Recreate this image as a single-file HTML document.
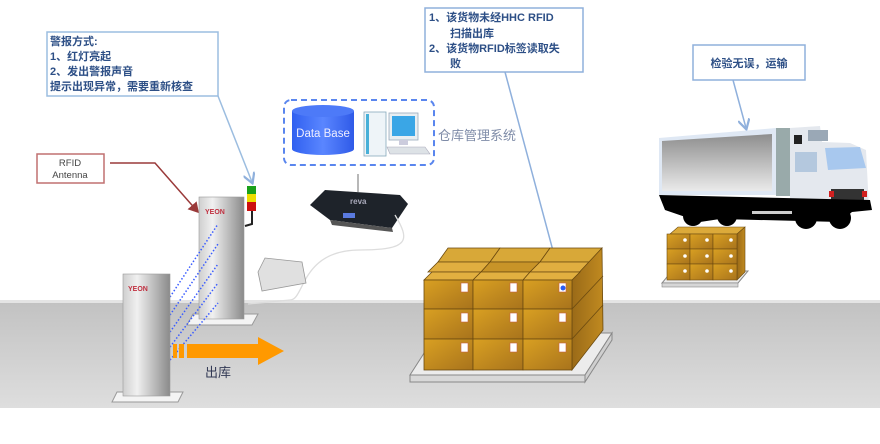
<!DOCTYPE html>
<html><head><meta charset="utf-8"><style>
html,body{margin:0;padding:0;background:#fff;}
svg{display:block;}
text{font-family:"Liberation Sans","Noto Sans CJK SC",sans-serif;}
</style></head><body>
<svg width="880" height="444" viewBox="0 0 880 444" xmlns="http://www.w3.org/2000/svg">
<defs>
<linearGradient id="floor" x1="0" y1="0" x2="0" y2="1"><stop offset="0" stop-color="#c2c2c2"/><stop offset="1" stop-color="#dedede"/></linearGradient>
<linearGradient id="gate" x1="0" y1="0" x2="1" y2="0"><stop offset="0" stop-color="#cfcfcf"/><stop offset="0.3" stop-color="#f0f0f0"/><stop offset="1" stop-color="#8a8a8a"/></linearGradient>
<linearGradient id="box" x1="0" y1="0" x2="1" y2="1"><stop offset="0" stop-color="#d9a022"/><stop offset="1" stop-color="#a8731c"/></linearGradient>
<linearGradient id="boxside" x1="0" y1="0" x2="1" y2="0"><stop offset="0" stop-color="#9a6a18"/><stop offset="1" stop-color="#c08a20"/></linearGradient>
<linearGradient id="trk" x1="0" y1="0" x2="0" y2="1"><stop offset="0" stop-color="#8e8e8e"/><stop offset="1" stop-color="#eaeaea"/></linearGradient>
<linearGradient id="cyl" x1="0" y1="0" x2="1" y2="0"><stop offset="0" stop-color="#3060f0"/><stop offset="0.5" stop-color="#5a86ff"/><stop offset="1" stop-color="#2f5ae8"/></linearGradient>
<marker id="ab" markerWidth="8" markerHeight="8" refX="6" refY="4" orient="auto"><path d="M0,0 L7,4 L0,8" fill="none" stroke="#8fb0dc" stroke-width="1.5"/></marker>
<marker id="ar" markerWidth="8" markerHeight="8" refX="6" refY="4" orient="auto"><path d="M0,0 L7,4 L0,8 z" fill="#9a3a3a"/></marker>
</defs>
<!-- floor -->
<rect x="0" y="302" width="880" height="106" fill="url(#floor)"/>
<rect x="0" y="300" width="880" height="3" fill="#e4e4e4"/>

<!-- callout 1 -->
<rect x="47" y="32" width="171" height="64" fill="#fff" stroke="#9cbde0" stroke-width="1.5"/>
<g font-size="11" font-weight="bold" fill="#2d4f86">
<text x="50" y="45">警报方式:</text>
<text x="50" y="60">1、红灯亮起</text>
<text x="50" y="75">2、发出警报声音</text>
<text x="50" y="90">提示出现异常，需要重新核查</text>
</g>
<line x1="218" y1="96" x2="252" y2="182" stroke="#9cbde0" stroke-width="1.5" marker-end="url(#ab)"/>

<!-- RFID antenna box -->
<rect x="37" y="154" width="67" height="29" fill="#fff" stroke="#c07070" stroke-width="1.5"/>
<text x="70" y="166" font-size="9.5" fill="#444" text-anchor="middle">RFID</text>
<text x="70" y="178" font-size="9.5" fill="#444" text-anchor="middle">Antenna</text>
<polyline points="110,163 155,163 198,212" fill="none" stroke="#9a3a3a" stroke-width="1.5" marker-end="url(#ar)"/>

<!-- back gate -->
<polygon points="187,325 252,325 258,314 193,314" fill="#f4f4f4" stroke="#999"/>
<rect x="199" y="197" width="45" height="122" fill="url(#gate)" stroke="#999" stroke-width="0.6"/>
<text x="205" y="214" font-size="7" font-weight="bold" fill="#c03040">YEON</text>
<!-- light -->
<rect x="247" y="186" width="9" height="8" fill="#1aa01a"/>
<rect x="247" y="194" width="9" height="8" fill="#eedd00"/>
<rect x="247" y="202" width="9" height="9" fill="#cc1010"/>
<path d="M252,211 L252,224 L245,226" fill="none" stroke="#222" stroke-width="2"/>
<!-- beams -->
<g stroke="#3a5cff" stroke-width="1.5" stroke-dasharray="1.5,2">
<line x1="170" y1="297" x2="218" y2="224"/>
<line x1="170" y1="315" x2="218" y2="244"/>
<line x1="170" y1="332" x2="218" y2="264"/>
<line x1="170" y1="347" x2="218" y2="283"/>
<line x1="170" y1="360" x2="218" y2="303"/>
</g>
<!-- front gate -->
<polygon points="112,402 178,402 183,392 117,392" fill="#f4f4f4" stroke="#999"/>
<rect x="123" y="274" width="47" height="122" fill="url(#gate)" stroke="#999" stroke-width="0.6"/>
<text x="128" y="291" font-size="7" font-weight="bold" fill="#c03040">YEON</text>
<!-- orange arrow -->
<rect x="173" y="344" width="4" height="14" fill="#ff9900"/>
<rect x="179" y="344" width="5" height="14" fill="#ff9900"/>
<polygon points="187,344 258,344 258,337 284,351 258,365 258,358 187,358" fill="#ff9900"/>
<text x="205" y="377" font-size="13" fill="#333a55">出库</text>

<!-- db dashed box -->
<rect x="284" y="100" width="150" height="65" rx="7" fill="none" stroke="#5a86ee" stroke-width="2" stroke-dasharray="6,4"/>
<path d="M292,111 L292,149 A31,6 0 0 0 354,149 L354,111" fill="url(#cyl)"/>
<ellipse cx="323" cy="111" rx="31" ry="6" fill="#4d7af8"/>
<text x="323" y="137" font-size="11.5" fill="#eef" text-anchor="middle">Data Base</text>
<!-- computer -->
<rect x="364" y="112" width="22" height="44" fill="#eef4f8" stroke="#8ab" stroke-width="0.8"/>
<rect x="366" y="114" width="3" height="40" fill="#48b0d8"/>
<rect x="389" y="113" width="29" height="27" fill="#e8eef2" stroke="#9ab" stroke-width="0.8"/>
<rect x="392" y="116" width="23" height="20" fill="#3aa6e6"/>
<rect x="399" y="140" width="9" height="5" fill="#ccd"/>
<polygon points="387,147 425,147 430,154 390,154" fill="#dde2e6" stroke="#aab" stroke-width="0.6"/>
<text x="438" y="140" font-size="13" fill="#7f8ca8">仓库管理系统</text>

<!-- reader -->
<line x1="358" y1="174" x2="358" y2="192" stroke="#888" stroke-width="1.2"/>
<polygon points="310,205 325,190 400,195 408,204 392,228 330,220" fill="#1e232a"/>
<polygon points="330,220 392,228 393,232 332,225" fill="#555"/>
<rect x="343" y="213" width="12" height="5" fill="#5a7adf"/>
<text x="350" y="204" font-size="8" fill="#aab" font-weight="bold">reva</text>
<path d="M395,215 C410,240 410,250 360,250 C300,250 305,300 290,300 L248,304" fill="none" stroke="#ddd" stroke-width="1.3"/>
<!-- small reader -->
<polygon points="258,272 265,258 302,262 306,283 262,291" fill="#e0e0e0" stroke="#999" stroke-width="0.8"/>

<!-- callout 2 -->
<rect x="425" y="8" width="158" height="64" fill="#fff" stroke="#8fb0dc" stroke-width="1.5"/>
<g font-size="11" font-weight="bold" fill="#2d4f86">
<text x="429" y="21">1、该货物未经HHC  RFID</text>
<text x="450" y="37">扫描出库</text>
<text x="429" y="52">2、该货物RFID标签读取失</text>
<text x="450" y="67">败</text>
</g>
<line x1="505" y1="72" x2="563" y2="288" stroke="#8fb0dc" stroke-width="1.5"/>

<!-- big pallet -->
<polygon points="410,375 585,375 612,333 437,333" fill="#ececec" stroke="#888"/>
<polygon points="410,375 585,375 585,382 410,382" fill="#d8d8d8" stroke="#888"/>
<polygon points="585,375 612,333 612,340 585,382" fill="#cfcfcf" stroke="#888"/>
<!-- back row tops -->
<g stroke="#6b4a10" stroke-width="0.8">
<polygon points="448,248 500,248 490,262 438,262" fill="#d8a838"/>
<polygon points="500,248 550,248 540,262 490,262" fill="#d8a838"/>
<polygon points="550,248 602,248 592,262 540,262" fill="#d8a838"/>
<polygon points="438,262 490,262 481,272 428,272" fill="#e0ae40"/>
<polygon points="490,262 540,262 530,272 481,272" fill="#c89428"/>
<polygon points="540,262 592,262 582,272 530,272" fill="#e0ae40"/>
<polygon points="572,280 602,248 603,330 572,370" fill="url(#boxside)"/>
</g>
<g stroke="#6b4a10" stroke-width="0.8" fill="url(#box)">
<polygon points="424,280 432,272 481,272 473,280" fill="#e2b040"/>
<polygon points="473,280 481,272 530,272 523,280" fill="#e2b040"/>
<polygon points="523,280 530,272 580,272 572,280" fill="#e2b040"/>
<rect x="424" y="280" width="49" height="29"/><rect x="473" y="280" width="50" height="29"/><rect x="523" y="280" width="49" height="29"/>
<rect x="424" y="309" width="49" height="30"/><rect x="473" y="309" width="50" height="30"/><rect x="523" y="309" width="49" height="30"/>
<rect x="424" y="339" width="49" height="31"/><rect x="473" y="339" width="50" height="31"/><rect x="523" y="339" width="49" height="31"/>
<line x1="572" y1="309" x2="603" y2="276"/><line x1="572" y1="339" x2="603" y2="305"/>
</g>
<g fill="#fff" stroke="#c86040" stroke-width="0.6">
<rect x="461" y="283" width="7" height="9"/><rect x="510" y="283" width="7" height="9"/><rect x="559" y="283" width="7" height="9"/>
<rect x="461" y="313" width="7" height="9"/><rect x="510" y="313" width="7" height="9"/><rect x="559" y="313" width="7" height="9"/>
<rect x="461" y="343" width="7" height="9"/><rect x="510" y="343" width="7" height="9"/><rect x="559" y="343" width="7" height="9"/>
</g>
<circle cx="563" cy="288" r="2.5" fill="#2a5cf0"/>

<!-- callout 3 -->
<rect x="693" y="45" width="112" height="35" fill="#fff" stroke="#8fb0dc" stroke-width="1.5"/>
<text x="749" y="67" font-size="11" font-weight="bold" fill="#2d4f86" text-anchor="middle">检验无误，运输</text>
<line x1="733" y1="80" x2="746" y2="128" stroke="#8fb0dc" stroke-width="1.5" marker-end="url(#ab)"/>

<!-- truck -->
<polygon points="659,138 776,128 776,195 659,195" fill="#dfe8f4"/>
<polygon points="662,141 772,134 772,191 662,191" fill="url(#trk)"/>
<rect x="776" y="128" width="14" height="68" fill="#9aa"/>
<path d="M790,128 L820,126 L822,142 L850,143 L866,150 L869,208 L790,208 Z" fill="#e4e8ee"/>
<rect x="794" y="135" width="8" height="9" fill="#222"/>
<rect x="808" y="130" width="20" height="11" fill="#9aa8b6"/>
<path d="M825,148 L860,147 L866,168 L828,170 Z" fill="#a8c8ee"/>
<rect x="795" y="152" width="22" height="20" fill="#b4c8de"/>
<rect x="831" y="189" width="33" height="11" fill="#333"/>
<rect x="829" y="191" width="5" height="6" fill="#d02020"/><rect x="862" y="191" width="5" height="6" fill="#d02020"/>
<rect x="848" y="201" width="12" height="3" fill="#2a7ad0"/>
<path d="M659,195 L870,200 L872,210 L852,212 L840,222 L720,219 L700,222 L665,210 Z" fill="#000"/>
<circle cx="693" cy="216" r="10" fill="#000"/><circle cx="727" cy="216" r="10" fill="#000"/>
<circle cx="806" cy="218" r="11" fill="#000"/><circle cx="840" cy="218" r="11" fill="#000"/>
<rect x="752" y="211" width="40" height="3" fill="#ccc"/>

<!-- small pallet -->
<polygon points="662,283 738,283 748,271 672,271" fill="#ececec" stroke="#888"/>
<rect x="662" y="283" width="76" height="4" fill="#d6d6d6" stroke="#888" stroke-width="0.6"/>
<polygon points="670,234 678,227 745,227 737,234" fill="#dcaa3a" stroke="#6b4a10" stroke-width="0.6"/>
<polygon points="737,234 745,227 745,272 737,280" fill="url(#boxside)" stroke="#6b4a10" stroke-width="0.6"/>
<g stroke="#6b4a10" stroke-width="0.6" fill="url(#box)">
<rect x="667" y="234" width="23" height="15"/><rect x="690" y="234" width="23" height="15"/><rect x="713" y="234" width="24" height="15"/>
<rect x="667" y="249" width="23" height="15"/><rect x="690" y="249" width="23" height="15"/><rect x="713" y="249" width="24" height="15"/>
<rect x="667" y="264" width="23" height="16"/><rect x="690" y="264" width="23" height="16"/><rect x="713" y="264" width="24" height="16"/>
</g>
<g fill="#fff">
<circle cx="685" cy="240" r="1.8"/><circle cx="707" cy="240" r="1.8"/><circle cx="731" cy="240" r="1.8"/>
<circle cx="685" cy="256" r="1.8"/><circle cx="707" cy="256" r="1.8"/><circle cx="731" cy="256" r="1.8"/>
<circle cx="685" cy="271" r="1.8"/><circle cx="707" cy="271" r="1.8"/><circle cx="731" cy="271" r="1.8"/>
</g>
</svg>
</body></html>
